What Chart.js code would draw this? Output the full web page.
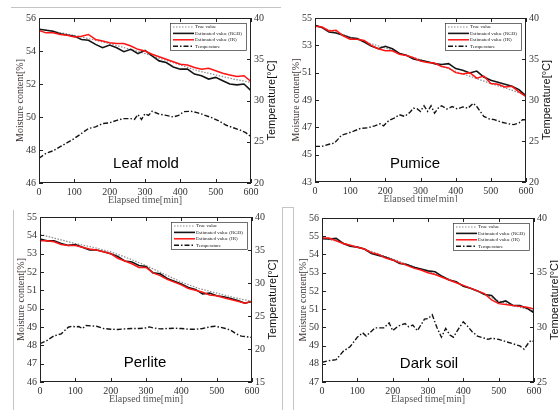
<!DOCTYPE html>
<html>
<head>
<meta charset="utf-8">
<script src="https://cdn.jsdelivr.net/npm/chart.js@4.4.0/dist/chart.umd.min.js"></script>
<style>
  body { margin: 0; background: #fff; width: 558px; height: 410px; overflow: hidden; position: relative; }
  canvas { position: absolute; }
  .rule { position: absolute; border: 0 solid #c4c4c4; z-index: 5; }
</style>
</head>
<body>
<div class="rule" style="left:11px; top:7px; width:270px; border-top-width:1px;"></div>
<div class="rule" style="left:13px; top:210px; height:200px; border-left-width:1px;"></div>
<div class="rule" style="left:282px; top:207px; width:10px; height:210px; border-width:1px;"></div>

<canvas id="c1" width="279" height="212" style="left:0px; top:0px;"></canvas>
<canvas id="c2" width="279" height="212" style="left:279px; top:0px;"></canvas>
<canvas id="c3" width="279" height="206" style="left:0px; top:204px;"></canvas>
<canvas id="c4" width="279" height="208" style="left:279px; top:202px;"></canvas>

<script>
// time axes [min]
const min20 = [0, 20, 40, 60, 80, 100, 120, 140, 160, 180, 200, 220, 240, 260, 280, 300,
  320, 340, 360, 380, 400, 420, 440, 460, 480, 500, 520, 540, 560, 580, 600];
const min50 = [0, 50, 100, 150, 200, 250, 300, 350, 400, 450, 500, 550, 600];
const xTicks = [0, 100, 200, 300, 400, 500, 600];

// Leaf mold
const leafTrue = [55.35, 55.15, 54.95, 54.7, 54.45, 54.15, 53.85, 53.5, 53.15, 52.8, 52.55, 52.3, 52.1];
const leafRgb = [55.32, 55.26, 55.2, 55.05, 54.97, 54.9, 54.7, 54.65, 54.4, 54.2, 54.36, 54.2, 53.96, 54.1, 53.84, 54.04,
  53.7, 53.4, 53.3, 53.03, 52.9, 52.9, 52.6, 52.5, 52.3, 52.4, 52.2, 52.0, 51.95, 52.0, 51.6];
const leafIr = [55.25, 55.1, 55.1, 55.0, 54.95, 54.85, 54.9, 55.0, 54.7, 54.6, 54.5, 54.45, 54.45, 54.3, 54.1, 54.0,
  53.8, 53.65, 53.5, 53.35, 53.2, 53.15, 53.0, 52.9, 52.95, 52.8, 52.65, 52.55, 52.45, 52.5, 52.15];
const leafTempTime = [0, 20, 40, 60, 80, 100, 120, 140, 160, 180, 200, 220, 240, 260, 270, 280, 290, 300, 310, 320,
  340, 360, 380, 395, 410, 430, 450, 470, 490, 510, 530, 550, 570, 585, 600];
const leafTemp = [23.0, 23.6, 23.9, 24.4, 24.9, 25.4, 26.0, 26.6, 26.8, 27.2, 27.3, 27.6, 27.8, 27.8, 27.7, 28.3, 27.7, 28.4, 28.2, 28.7,
  28.35, 28.2, 28.0, 28.2, 28.65, 28.7, 28.5, 28.2, 27.9, 27.5, 27.0, 26.7, 26.4, 26.1, 25.6];

// Pumice
const pumTrue = [54.45, 54.05, 53.6, 53.2, 52.8, 52.35, 51.95, 51.55, 51.1, 50.65, 50.2, 49.8, 49.35];
const pumRgb = [54.46, 54.3, 53.98, 53.9, 53.73, 53.56, 53.5, 53.24, 52.95, 52.75, 52.93, 52.75, 52.4, 52.27, 52.0, 51.9,
  51.8, 51.66, 51.6, 51.66, 51.3, 51.17, 50.98, 51.12, 50.68, 50.44, 50.3, 50.15, 50.0, 49.76, 49.3];
const pumIr = [54.4, 54.34, 54.05, 54.1, 53.7, 53.45, 53.45, 53.35, 53.0, 52.75, 52.6, 52.6, 52.35, 52.25, 52.1, 51.85,
  51.75, 51.7, 51.45, 51.35, 51.0, 50.9, 51.0, 50.6, 50.75, 50.2, 50.15, 49.95, 50.0, 49.6, 49.25];
const pumTempTime = [0, 20, 40, 55, 65, 75, 90, 110, 130, 150, 170, 185, 195, 210, 225, 240, 255, 270, 280, 290,
  300, 310, 320, 330, 340, 350, 360, 375, 390, 405, 420, 435, 450, 460, 470, 480, 495, 510, 530, 550, 565, 580, 590, 600];
const pumTemp = [24.35, 24.35, 24.6, 24.75, 25.2, 25.7, 25.9, 26.2, 26.55, 26.6, 26.85, 27.1, 26.85, 27.5, 27.8, 28.2, 28.0, 28.5, 29.0, 28.95,
  28.6, 29.3, 28.6, 29.3, 28.4, 29.0, 29.3, 28.9, 29.2, 28.9, 29.15, 29.0, 29.6, 29.2, 28.6, 28.0, 27.7, 27.6, 27.3, 27.1, 27.0, 27.2, 27.6, 27.6];

// Perlite
const perTrue = [54.05, 53.8, 53.55, 53.35, 53.1, 52.75, 52.35, 51.9, 51.45, 51.1, 50.85, 50.6, 50.4];
const perRgb = [53.8, 53.7, 53.7, 53.55, 53.45, 53.5, 53.35, 53.2, 53.2, 53.1, 53.0, 52.85, 52.6, 52.55, 52.35, 52.3,
  51.95, 51.9, 51.65, 51.5, 51.35, 51.15, 51.05, 50.8, 50.85, 50.7, 50.65, 50.55, 50.45, 50.3, 50.4];
const perIr = [53.7, 53.7, 53.65, 53.5, 53.45, 53.45, 53.35, 53.25, 53.2, 53.1, 53.0, 52.75, 52.6, 52.45, 52.25, 52.25,
  51.95, 51.8, 51.6, 51.45, 51.3, 51.1, 51.0, 50.9, 50.75, 50.7, 50.6, 50.5, 50.4, 50.3, 50.4];
const perTempTime = [0, 20, 40, 60, 80, 90, 100, 110, 120, 130, 145, 160, 180, 200, 220, 240, 260, 280, 300, 310,
  320, 340, 360, 380, 400, 420, 440, 460, 480, 495, 510, 525, 540, 555, 570, 585, 600];
const perTemp = [20.8, 21.3, 22.0, 22.3, 23.3, 23.45, 23.35, 23.4, 23.1, 23.55, 23.5, 23.45, 23.1, 23.0, 22.95, 23.05, 23.1, 23.1, 23.2, 23.35,
  23.2, 23.05, 23.1, 23.15, 23.1, 23.0, 23.0, 23.1, 23.35, 23.45, 23.3, 23.1, 22.85, 22.3, 21.95, 21.85, 21.75];

// Dark soil
const dsTrue = [54.9, 54.7, 54.4, 54.1, 53.75, 53.4, 53.05, 52.7, 52.3, 51.9, 51.45, 51.15, 50.9];
const dsRgb = [54.87, 54.85, 54.88, 54.6, 54.45, 54.4, 54.3, 54.05, 53.95, 53.85, 53.7, 53.5, 53.45, 53.3, 53.2, 53.1,
  53.05, 52.8, 52.6, 52.5, 52.25, 52.15, 52.0, 51.8, 51.75, 51.35, 51.45, 51.2, 51.2, 51.05, 50.8];
const dsIr = [54.9, 54.9, 54.75, 54.6, 54.5, 54.4, 54.3, 54.1, 54.0, 53.8, 53.7, 53.55, 53.4, 53.25, 53.15, 53.0,
  52.9, 52.75, 52.6, 52.45, 52.3, 52.15, 52.0, 51.85, 51.5, 51.3, 51.25, 51.2, 51.15, 51.1, 51.0];
const dsTempTime = [0, 20, 40, 60, 80, 100, 115, 125, 150, 175, 190, 200, 215, 235, 245, 257, 270, 290, 300, 312,
  325, 338, 350, 362, 372, 385, 400, 412, 425, 440, 460, 470, 480, 500, 520, 540, 560, 572, 585, 592, 600];
const dsTemp = [26.8, 26.95, 27.05, 27.8, 28.25, 29.1, 29.5, 29.2, 29.95, 29.95, 30.4, 29.7, 30.1, 30.35, 30.05, 30.2, 29.7, 30.75, 30.8, 31.15,
  30.0, 29.1, 29.9, 29.3, 29.1, 29.8, 30.5, 30.1, 29.6, 29.2, 29.0, 28.9, 29.0, 28.9, 28.7, 28.5, 28.3, 28.0, 28.6, 28.8, 28.7];

const legendLabels = ['True value', 'Estimated value (RGB)', 'Estimated value (IR)', 'Temperature'];

const panels = [
  { id: 'c1', left: 0, top: 0, w: 279, h: 212, plot: [39, 18, 251, 183], name: 'Leaf mold', namePos: [146, 164],
    yL: [46, 56, 2], yR: [20, 40, 5], trueV: leafTrue, rgb: leafRgb, ir: leafIr, tempT: leafTempTime, temp: leafTemp },
  { id: 'c2', left: 279, top: 0, w: 279, h: 212, plot: [315, 18, 526, 182], name: 'Pumice', namePos: [415, 164],
    yL: [43, 55, 2], yR: [20, 40, 5], trueV: pumTrue, rgb: pumRgb, ir: pumIr, tempT: pumTempTime, temp: pumTemp },
  { id: 'c3', left: 0, top: 204, w: 279, h: 206, plot: [40, 217, 252, 382], name: 'Perlite', namePos: [145, 363],
    yL: [46, 55, 1], yR: [15, 40, 5], trueV: perTrue, rgb: perRgb, ir: perIr, tempT: perTempTime, temp: perTemp },
  { id: 'c4', left: 279, top: 202, w: 279, h: 208, plot: [322, 218, 534, 382], name: 'Dark soil', namePos: [429, 364],
    yL: [47, 56, 1], yR: [25, 40, 5], trueV: dsTrue, rgb: dsRgb, ir: dsIr, tempT: dsTempTime, temp: dsTemp, white: true }
];

const serif = '"Liberation Serif", "Times New Roman", serif';
const sans = '"Liberation Sans", Arial, sans-serif';

function pairs(xs, ys) {
  return xs.map((x, i) => ({ x: x, y: ys[i] }));
}

// box, inward ticks, titles, legend and panel name
function framePlugin(p) {
  return {
    id: 'frame',
    beforeDraw(chart) {
      if (!p.white) return;
      const ctx = chart.ctx;
      ctx.save();
      ctx.fillStyle = '#fff';
      ctx.fillRect(0, 0, chart.width, chart.height);
      ctx.restore();
    },
    afterDraw(chart) {
      const ctx = chart.ctx;
      const a = chart.chartArea;
      const sx = chart.scales.x, yl = chart.scales.yL, yr = chart.scales.yR;
      ctx.save();
      ctx.strokeStyle = '#222';
      ctx.lineWidth = 1;
      ctx.strokeRect(a.left + 0.5, a.top + 0.5, a.right - a.left - 1, a.bottom - a.top - 1);
      ctx.beginPath();
      const tl = 4;
      sx.ticks.forEach(t => {
        const px = Math.round(sx.getPixelForValue(t.value)) + 0.5;
        ctx.moveTo(px, a.bottom); ctx.lineTo(px, a.bottom - tl);
        ctx.moveTo(px, a.top); ctx.lineTo(px, a.top + tl);
      });
      yl.ticks.forEach(t => {
        const py = Math.round(yl.getPixelForValue(t.value)) + 0.5;
        ctx.moveTo(a.left, py); ctx.lineTo(a.left + tl, py);
      });
      yr.ticks.forEach(t => {
        const py = Math.round(yr.getPixelForValue(t.value)) + 0.5;
        ctx.moveTo(a.right, py); ctx.lineTo(a.right - tl, py);
      });
      ctx.stroke();

      const midX = (a.left + a.right) / 2, midY = (a.top + a.bottom) / 2;
      ctx.textAlign = 'center';
      ctx.textBaseline = 'middle';
      ctx.fillStyle = '#555';
      ctx.font = '10px ' + serif;
      ctx.fillText('Elapsed time[min]', midX, a.bottom + 17);

      ctx.save();
      ctx.translate(a.left - 19, midY);
      ctx.rotate(-Math.PI / 2);
      ctx.fillStyle = '#3a3330';
      ctx.fillText('Moisture content[%]', 0, 0);
      ctx.restore();

      ctx.save();
      ctx.translate(a.right + 21, midY);
      ctx.rotate(-Math.PI / 2);
      ctx.fillStyle = '#111';
      ctx.font = '11px ' + sans;
      ctx.fillText('Temperature[\u00b0C]', 0, 0);
      ctx.restore();

      // panel name
      ctx.fillStyle = '#000';
      ctx.font = '15px ' + sans;
      ctx.fillText(p.name, p.namePos[0] - p.left, p.namePos[1] - p.top);

      // legend box
      const bw = 76, bh = 27;
      const bx = a.right - 5 - bw, by = a.top + 5;
      ctx.fillStyle = '#fff';
      ctx.fillRect(bx, by, bw, bh);
      ctx.strokeStyle = '#333';
      ctx.lineWidth = 0.7;
      ctx.strokeRect(bx + 0.5, by + 0.5, bw, bh);
      ctx.textAlign = 'left';
      ctx.font = '5px ' + serif;
      chart.data.datasets.forEach((ds, i) => {
        const ry = by + 4 + i * 6.4;
        ctx.beginPath();
        ctx.strokeStyle = ds.borderColor;
        ctx.lineWidth = ds.borderWidth;
        ctx.setLineDash(ds.borderDash || []);
        ctx.moveTo(bx + 3, ry);
        ctx.lineTo(bx + 24, ry);
        ctx.stroke();
        ctx.setLineDash([]);
        ctx.fillStyle = '#222';
        ctx.fillText(ds.label, bx + 25, ry);
      });
      ctx.restore();
    }
  };
}

function makeChart(p) {
  const [pl, pt, pr, pb] = p.plot;
  const leftW = pl - p.left;
  const rightW = p.left + p.w - pr;
  const bottomH = p.top + p.h - pb;
  const tickFont = { family: serif, size: 10 };
  return new Chart(document.getElementById(p.id), {
    type: 'line',
    data: {
      datasets: [
        { label: legendLabels[0], data: pairs(min50, p.trueV), borderColor: '#8c8c8c', borderWidth: 1.2,
          borderDash: [1.5, 1.5], yAxisID: 'yL', order: 3 },
        { label: legendLabels[1], data: pairs(min20, p.rgb), borderColor: '#141414', borderWidth: 1.6,
          yAxisID: 'yL', order: 2 },
        { label: legendLabels[2], data: pairs(min20, p.ir), borderColor: '#ff1414', borderWidth: 1.5,
          yAxisID: 'yL', order: 1 },
        { label: legendLabels[3], data: pairs(p.tempT, p.temp), borderColor: '#141414', borderWidth: 1.4,
          borderDash: [5, 2, 1.5, 2], yAxisID: 'yR', order: 0 }
      ]
    },
    options: {
      responsive: false,
      animation: false,
      layout: { padding: { top: pt - p.top, left: 0, right: 0, bottom: 0 } },
      elements: { point: { radius: 0 }, line: { tension: 0 } },
      plugins: { legend: { display: false }, tooltip: { enabled: false } },
      scales: {
        x: {
          type: 'linear', min: 0, max: 600,
          afterBuildTicks: s => { s.ticks = xTicks.map(v => ({ value: v })); },
          grid: { display: false, drawTicks: false }, border: { display: false },
          ticks: { font: tickFont, color: '#333', padding: 3, maxRotation: 0 },
          afterFit: s => { s.height = bottomH; }
        },
        yL: {
          position: 'left', min: p.yL[0], max: p.yL[1],
          grid: { display: false, drawTicks: false }, border: { display: false },
          ticks: { stepSize: p.yL[2], font: tickFont, color: '#333', padding: 3 },
          afterFit: s => { s.width = leftW; }
        },
        yR: {
          position: 'right', min: p.yR[0], max: p.yR[1],
          grid: { display: false, drawTicks: false }, border: { display: false },
          ticks: { stepSize: p.yR[2], font: tickFont, color: '#333', padding: 3 },
          afterFit: s => { s.width = rightW; }
        }
      }
    },
    plugins: [framePlugin(p)]
  });
}

panels.forEach(makeChart);
</script>
</body>
</html>
